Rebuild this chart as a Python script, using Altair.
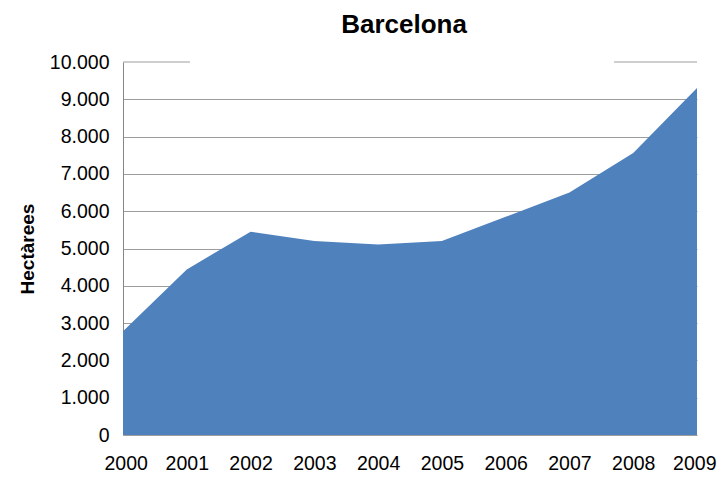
import altair as alt
import pandas as pd

years = [2000, 2001, 2002, 2003, 2004, 2005, 2006, 2007, 2008, 2009]
hectares = [2780, 4440, 5450, 5200, 5110, 5200, 5850, 6500, 7560, 9300]
y_ticks = [0, 1000, 2000, 3000, 4000, 5000, 6000, 7000, 8000, 9000, 10000]

df = pd.DataFrame({"year": years, "ha": hectares})
FONT = "Liberation Sans"

x_scale = alt.Scale(domain=[2000, 2009], nice=False, zero=False)
y_scale = alt.Scale(domain=[0, 10000], nice=False)

x_axis = alt.Axis(values=years, format="d", title=None, grid=False,
                  ticks=False, domain=False, labelFontSize=19.5,
                  labelFont=FONT, labelColor="#000000", labelPadding=19,
                  labelFlush=True, labelFlushOffset=19, labelOverlap=False)
y_axis = alt.Axis(values=y_ticks, title="Hectàrees", titleFont=FONT,
                  titleFontSize=19, titleFontWeight="bold",
                  titleColor="#000000", titlePadding=12,
                  labelFont=FONT, labelFontSize=19.5, labelColor="#000000",
                  labelPadding=14, ticks=False, domain=True,
                  domainColor="#868686", domainWidth=1,
                  gridColor="#9d9d9d", gridWidth=1, labelOverlap=False,
                  gridOpacity=alt.condition("datum.value == 10000", alt.value(0), alt.value(1)),
                  labelExpr="replace(format(datum.value, ','), ',', '.')")

area = alt.Chart(df).mark_area(color="#4F81BD", opacity=1, line=False).encode(
    x=alt.X("year:Q", scale=x_scale, axis=x_axis),
    y=alt.Y("ha:Q", scale=y_scale, axis=y_axis),
)

seg = pd.DataFrame({"x1": [2000, 2007.70], "x2": [2001.05, 2009], "y": [10000, 10000]})
top_rule = alt.Chart(seg).mark_rule(color="#9d9d9d", strokeWidth=1).encode(
    x=alt.X("x1:Q", scale=x_scale, axis=x_axis),
    x2="x2:Q",
    y=alt.Y("y:Q", scale=y_scale, axis=y_axis),
)

chart = alt.layer(area, top_rule).properties(
    width=574,
    height=373,
    title=alt.TitleParams("Barcelona", font=FONT, fontSize=26, fontWeight="bold",
                          color="#000000", anchor="middle", dx=-6, offset=14),
    autosize=alt.AutoSizeParams(type="none"),
    padding={"left": 115, "top": 54, "right": 20, "bottom": 38},
).configure_view(stroke=None)

chart.save("out.html", embed_options={"renderer": "svg", "actions": False})
